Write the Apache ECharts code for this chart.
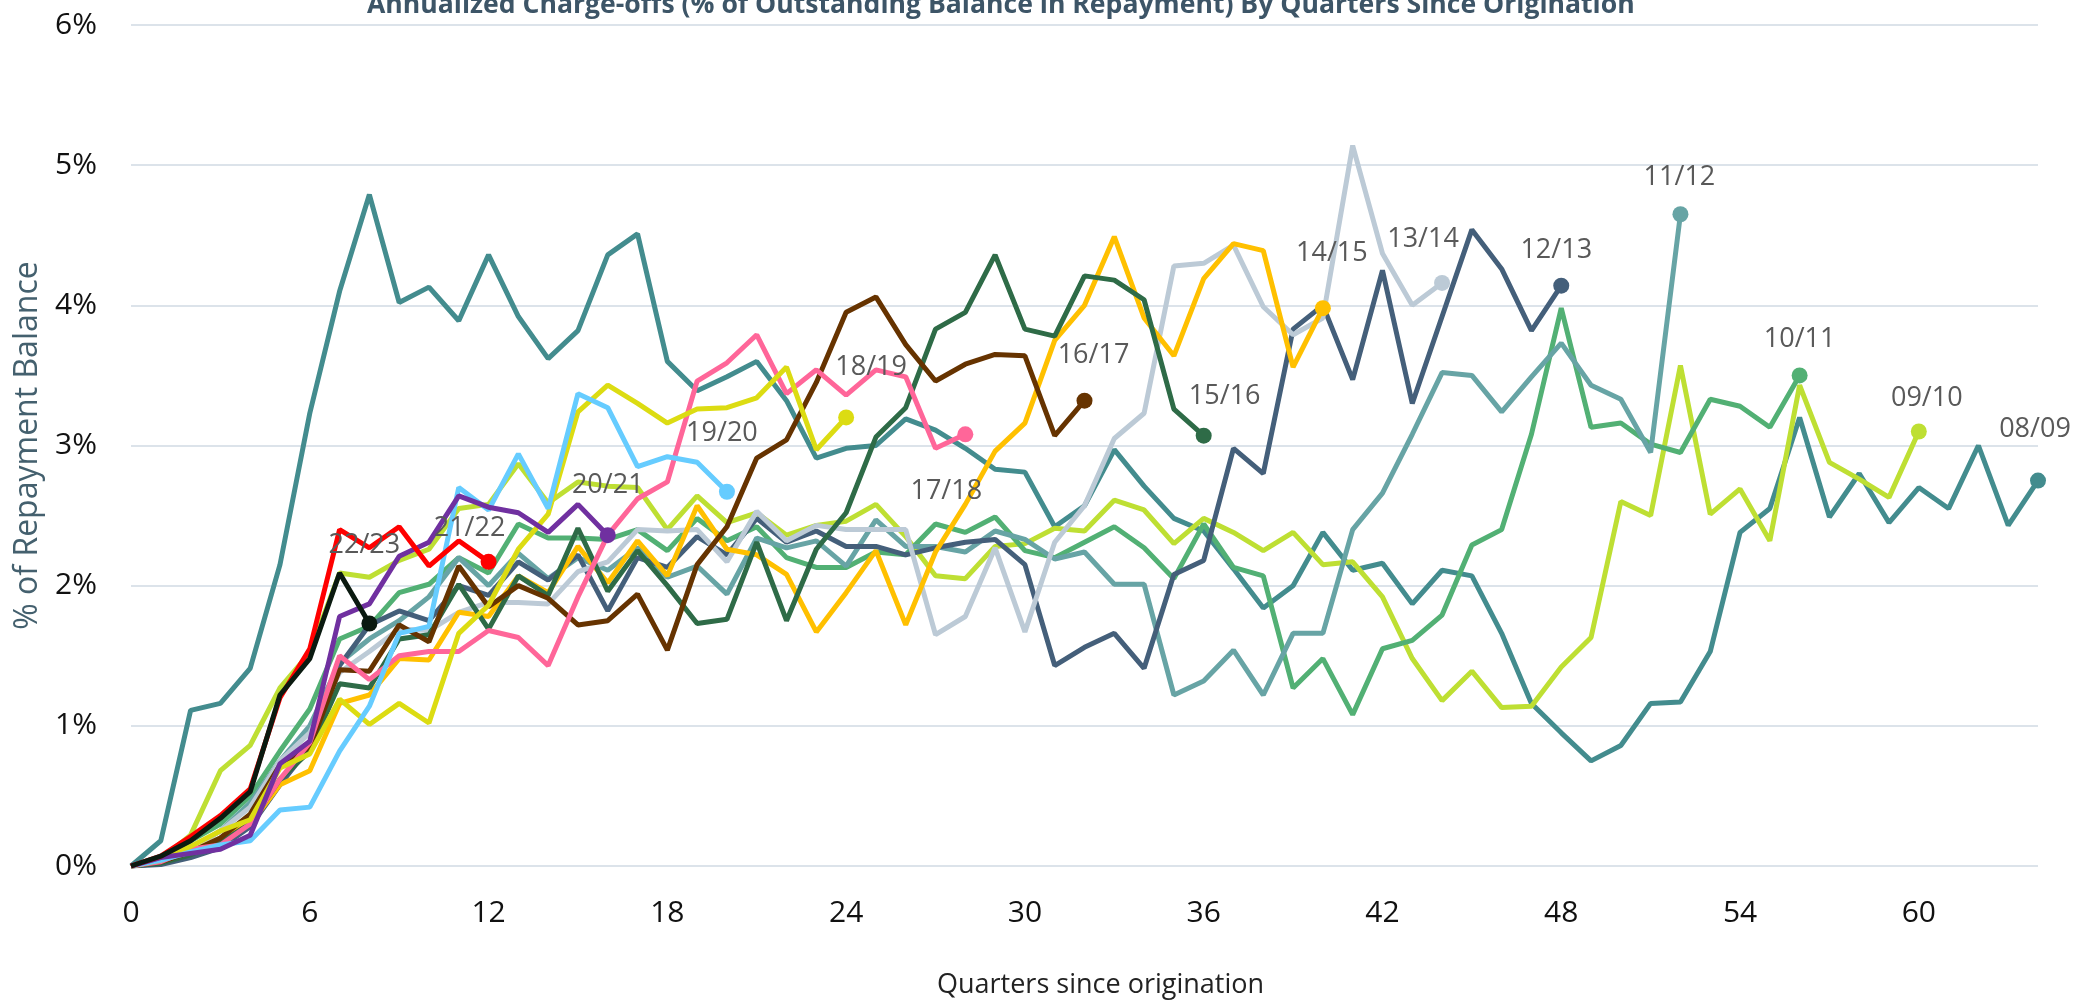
<!DOCTYPE html>
<html>
<head>
<meta charset="utf-8">
<script src="https://cdn.jsdelivr.net/npm/echarts@6/dist/echarts.min.js"></script>
<style>
  html, body { margin: 0; padding: 0; background: #fff; }
  #chart { width: 2082px; height: 1004px; }
</style>
</head>
<body>
<div id="chart"></div>
<script>
// charge-off rate (% of repayment balance) by quarter since origination, one array per vintage
const v0809 = [0, 0.18, 1.11, 1.16, 1.41, 2.15, 3.23, 4.10, 4.79, 4.02, 4.13, 3.89, 4.36, 3.92, 3.62, 3.82,
  4.36, 4.51, 3.60, 3.39, 3.49, 3.60, 3.32, 2.91, 2.98, 3.00, 3.19, 3.11, 2.98, 2.83, 2.81, 2.42,
  2.57, 2.97, 2.71, 2.48, 2.39, 2.12, 1.84, 2.00, 2.38, 2.11, 2.16, 1.87, 2.11, 2.07, 1.66, 1.16,
  0.95, 0.75, 0.86, 1.16, 1.17, 1.53, 2.38, 2.55, 3.20, 2.49, 2.80, 2.45, 2.70, 2.55, 3.00, 2.43, 2.75];
const v0910 = [0, 0.05, 0.22, 0.68, 0.86, 1.27, 1.52, 2.09, 2.06, 2.18, 2.26, 2.55, 2.58, 2.87, 2.59, 2.74,
  2.71, 2.70, 2.40, 2.64, 2.45, 2.52, 2.36, 2.43, 2.46, 2.58, 2.35, 2.07, 2.05, 2.28, 2.30, 2.41,
  2.39, 2.61, 2.54, 2.30, 2.48, 2.38, 2.25, 2.38, 2.15, 2.17, 1.92, 1.48, 1.18, 1.39, 1.13, 1.14,
  1.42, 1.63, 2.60, 2.50, 3.57, 2.51, 2.69, 2.32, 3.43, 2.88, 2.76, 2.63, 3.10];
const v1011 = [0, 0.05, 0.18, 0.30, 0.50, 0.82, 1.12, 1.62, 1.71, 1.95, 2.01, 2.20, 2.09, 2.44, 2.34, 2.34,
  2.33, 2.40, 2.25, 2.48, 2.32, 2.42, 2.20, 2.13, 2.13, 2.24, 2.22, 2.44, 2.38, 2.49, 2.25, 2.20,
  2.31, 2.42, 2.27, 2.05, 2.44, 2.13, 2.07, 1.27, 1.48, 1.08, 1.55, 1.61, 1.79, 2.29, 2.40, 3.08,
  3.98, 3.13, 3.16, 3.01, 2.95, 3.33, 3.28, 3.13, 3.50];
const v1112 = [0, 0.03, 0.12, 0.25, 0.45, 0.75, 1.00, 1.45, 1.62, 1.75, 1.92, 2.20, 2.00, 2.23, 2.05, 2.20,
  2.11, 2.27, 2.06, 2.14, 1.94, 2.34, 2.27, 2.32, 2.14, 2.47, 2.28, 2.28, 2.24, 2.39, 2.33, 2.19,
  2.24, 2.01, 2.01, 1.22, 1.32, 1.54, 1.22, 1.66, 1.66, 2.40, 2.66, 3.08, 3.52, 3.50, 3.24, 3.49,
  3.73, 3.43, 3.33, 2.95, 4.65];
const v1213 = [0, 0.01, 0.06, 0.13, 0.28, 0.58, 0.85, 1.43, 1.72, 1.82, 1.75, 2.00, 1.93, 2.17, 2.04, 2.22,
  1.82, 2.20, 2.13, 2.35, 2.22, 2.48, 2.31, 2.39, 2.28, 2.28, 2.22, 2.27, 2.31, 2.33, 2.15, 1.43,
  1.56, 1.66, 1.41, 2.08, 2.18, 2.98, 2.80, 3.83, 4.00, 3.47, 4.25, 3.30, 3.92, 4.54, 4.26, 3.82, 4.14];
const v1314 = [0, 0.03, 0.12, 0.25, 0.42, 0.75, 0.95, 1.38, 1.53, 1.69, 1.68, 1.81, 1.88, 1.88, 1.87, 2.10,
  2.17, 2.40, 2.39, 2.40, 2.17, 2.53, 2.32, 2.43, 2.40, 2.40, 2.40, 1.65, 1.78, 2.27, 1.67, 2.31,
  2.57, 3.05, 3.23, 4.28, 4.30, 4.43, 3.99, 3.79, 3.91, 5.14, 4.37, 4.00, 4.16];
const v1415 = [0, 0.03, 0.10, 0.20, 0.30, 0.58, 0.68, 1.16, 1.22, 1.48, 1.47, 1.81, 1.78, 2.07, 1.95, 2.28,
  2.02, 2.32, 2.07, 2.57, 2.26, 2.22, 2.08, 1.67, 1.95, 2.25, 1.72, 2.24, 2.58, 2.96, 3.16, 3.75,
  4.00, 4.49, 3.91, 3.64, 4.19, 4.44, 4.39, 3.56, 3.98];
const v1516 = [0, 0.02, 0.08, 0.17, 0.30, 0.62, 0.82, 1.30, 1.27, 1.62, 1.65, 2.01, 1.69, 2.07, 1.93, 2.41,
  1.96, 2.25, 2.00, 1.73, 1.76, 2.31, 1.75, 2.26, 2.52, 3.06, 3.27, 3.83, 3.95, 4.36, 3.83, 3.78,
  4.21, 4.18, 4.04, 3.26, 3.07];
const v1617 = [0, 0.03, 0.10, 0.20, 0.37, 0.72, 0.85, 1.40, 1.39, 1.72, 1.60, 2.14, 1.85, 2.00, 1.91, 1.72,
  1.75, 1.94, 1.54, 2.15, 2.42, 2.91, 3.04, 3.45, 3.95, 4.06, 3.72, 3.46, 3.58, 3.65, 3.64, 3.07, 3.32];
const v1718 = [0, 0.03, 0.12, 0.15, 0.30, 0.62, 0.88, 1.50, 1.33, 1.50, 1.53, 1.53, 1.68, 1.63, 1.43, 1.92,
  2.36, 2.62, 2.74, 3.46, 3.59, 3.79, 3.37, 3.54, 3.36, 3.54, 3.49, 2.98, 3.08];
const v1819 = [0, 0.04, 0.14, 0.25, 0.33, 0.70, 0.80, 1.19, 1.01, 1.16, 1.02, 1.66, 1.86, 2.26, 2.51, 3.24,
  3.43, 3.30, 3.16, 3.26, 3.27, 3.34, 3.56, 2.97, 3.20];
const v1920 = [0, 0.04, 0.10, 0.15, 0.18, 0.40, 0.42, 0.82, 1.14, 1.66, 1.71, 2.70, 2.54, 2.94, 2.55, 3.37,
  3.27, 2.85, 2.92, 2.88, 2.67];
const v2021 = [0, 0.06, 0.09, 0.12, 0.22, 0.73, 0.89, 1.78, 1.87, 2.21, 2.31, 2.64, 2.56, 2.52, 2.38, 2.58, 2.36];
const v2122 = [0, 0.07, 0.21, 0.36, 0.55, 1.20, 1.55, 2.40, 2.27, 2.42, 2.14, 2.32, 2.17];
const v2223 = [0, 0.07, 0.18, 0.34, 0.53, 1.22, 1.48, 2.09, 1.73];

const vintages = ['08/09', '09/10', '10/11', '11/12', '12/13', '13/14', '14/15', '15/16',
  '16/17', '17/18', '18/19', '19/20', '20/21', '21/22', '22/23'];
const vintageValues = [v0809, v0910, v1011, v1112, v1213, v1314, v1415, v1516,
  v1617, v1718, v1819, v1920, v2021, v2122, v2223];
const yTicks = [0, 1, 2, 3, 4, 5, 6];

// styling per vintage (line colour, end label offset in px)
const colors = ['#438C8E', '#BEDF33', '#52B074', '#67A4A5', '#445F7A', '#BCCAD6', '#FFC000', '#2E6B47',
  '#663300', '#FF6699', '#DCDC12', '#66CCFF', '#7030A0', '#FF0000', '#0B1A10'];
const labelOffsets = [[-3, -51], [8, -33], [0, -36], [-1, -37], [-5, -35], [-19, -44], [9, -55], [21, -39],
  [9, -45], [-19, 57], [25, -50], [-5, -58], [0, -50], [-19, -34], [-5, -78]];

const FONT = "'Open Sans', 'Noto Sans', sans-serif";

function lineSeries(name, values, color, offset) {
  const last = values.length - 1;
  return {
    name: name,
    type: 'line',
    color: color,
    symbol: 'circle',
    symbolSize: 0,
    showSymbol: true,
    lineStyle: { width: 5, color: color },
    itemStyle: { color: color },
    emphasis: { disabled: true },
    data: values.map(function (v, i) {
      if (i !== last) return [i, v];
      return {
        value: [i, v],
        symbolSize: 16,
        label: {
          show: true,
          position: 'inside',
          offset: offset,
          formatter: name,
          color: '#595959',
          fontSize: 27,
          fontFamily: FONT
        }
      };
    })
  };
}

const chart = echarts.init(document.getElementById('chart'));
chart.setOption({
  animation: false,
  backgroundColor: '#fff',
  title: {
    text: 'Annualized Charge-offs (% of Outstanding Balance in Repayment) By Quarters Since Origination',
    left: 362,
    top: -13,
    textStyle: { color: '#3D5567', fontSize: 26.6, fontWeight: 'bold', fontFamily: FONT }
  },
  grid: { left: 131, right: 44, top: 25, bottom: 131 },
  xAxis: {
    type: 'value',
    min: 0,
    max: 64,
    interval: 6,
    name: 'Quarters since origination',
    nameLocation: 'middle',
    nameGap: 106,
    nameTextStyle: { color: '#222', fontSize: 27, fontFamily: FONT, padding: [0, 0, 0, 32] },
    axisLine: { show: false },
    axisTick: { show: false },
    splitLine: { show: false },
    axisLabel: { color: '#111', fontSize: 30, fontFamily: FONT, margin: 32, showMaxLabel: false }
  },
  yAxis: {
    type: 'value',
    min: yTicks[0],
    max: yTicks[yTicks.length - 1],
    interval: 1,
    name: '% of Repayment Balance',
    nameLocation: 'middle',
    nameGap: 70,
    nameTextStyle: { color: '#44606E', fontSize: 32, fontFamily: FONT },
    axisLine: { show: false },
    axisTick: { show: false },
    axisLabel: { color: '#111', fontSize: 30, fontFamily: FONT, margin: 34, formatter: '{value}%' },
    splitLine: { lineStyle: { color: '#DCE3EA', width: 2 } }
  },
  series: vintages.map(function (name, k) {
    return lineSeries(name, vintageValues[k], colors[k], labelOffsets[k]);
  })
});
</script>
</body>
</html>
